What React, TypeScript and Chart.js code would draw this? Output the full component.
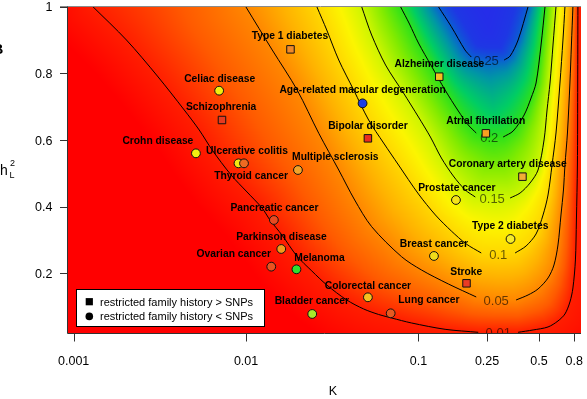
import { useEffect, useRef } from "react";
import { Chart, registerables } from "chart.js";

Chart.register(...registerables);

const FONT = '"Liberation Sans", Arial, Helvetica, sans-serif';

// ---------- axes ----------
const xTicks = [0.001, 0.01, 0.1, 0.25, 0.5, 0.8];
const xTickLabels = ["0.001", "0.01", "0.1", "0.25", "0.5", "0.8"];
const yTicks = [0.2, 0.4, 0.6, 0.8, 1];
const yTickLabels = ["0.2", "0.4", "0.6", "0.8", "1"];
const xTitle = "K";

// ---------- contour lines [K, h2] (left branch / right branch) ----------
const contourLevels = [0.01, 0.05, 0.1, 0.15, 0.2, 0.25];
const contourTexts = ["0.01", "0.05", "0.1", "0.15", "0.2", "0.25"];

const c001Left = [[0.001293,1.0],[0.002025,0.9],[0.003059,0.792],[0.004381,0.69],[0.00535,0.63],[0.006362,0.57],[0.00819,0.495],[0.01013,0.444],[0.01238,0.396],[0.01376,0.36],[0.01614,0.315],[0.01971,0.252],[0.02407,0.207],[0.02938,0.165],[0.03836,0.12],[0.04809,0.093],[0.05872,0.0765],[0.06982,0.066],[0.0911,0.051],[0.1427,0.032],[0.2222,0.023]];
const c001Right = [[0.3784,0.023],[0.4622,0.03],[0.5643,0.039],[0.6445,0.057],[0.7075,0.078],[0.756,0.114],[0.787,0.156],[0.8136,0.24],[0.8245,0.36],[0.8356,0.525],[0.8389,0.771],[0.8412,1.0]];
const c005Left = [[0.009961,1.0],[0.01419,0.87],[0.01979,0.75],[0.02642,0.62],[0.03448,0.51],[0.04266,0.42],[0.0535,0.34],[0.07973,0.25],[0.1041,0.21],[0.1491,0.168],[0.2163,0.129]];
const c005Right = [[0.3685,0.12],[0.4323,0.135],[0.4938,0.153],[0.5643,0.186],[0.611,0.225],[0.6445,0.285],[0.6708,0.375],[0.6934,0.45],[0.7075,0.525],[0.7314,0.621],[0.756,0.771],[0.7712,0.885],[0.787,1.0]];
const c010Left = [[0.02573,1.0],[0.02938,0.93],[0.03448,0.84],[0.0421,0.75],[0.0514,0.66],[0.06277,0.591],[0.07663,0.525],[0.1,0.438],[0.1254,0.375],[0.1551,0.327],[0.1894,0.288],[0.2313,0.261]];
const c010Right = [[0.3636,0.261],[0.421,0.282],[0.4809,0.318],[0.5279,0.375],[0.5643,0.435],[0.5953,0.525],[0.6277,0.621],[0.6619,0.771],[0.6889,0.9],[0.7075,1.0]];
const c015Left = [[0.04683,1.0],[0.0535,0.915],[0.06445,0.825],[0.0819,0.741],[0.1,0.669],[0.1173,0.609],[0.1358,0.546],[0.1593,0.492],[0.187,0.45],[0.2136,0.429]];
const c015Right = [[0.3402,0.426],[0.3887,0.441],[0.4439,0.471],[0.4938,0.51],[0.535,0.6],[0.5569,0.69],[0.5794,0.771],[0.603,0.885],[0.6277,1.0]];
const c020Left = [[0.0787,1.0],[0.08872,0.948],[0.1,0.891],[0.1189,0.822],[0.1427,0.75],[0.1703,0.687],[0.1945,0.645],[0.2163,0.621]];
const c020Right = [[0.3099,0.609],[0.3542,0.627],[0.41,0.675],[0.4499,0.726],[0.4809,0.771],[0.514,0.885],[0.5421,1.0]];
const c025Left = [[0.1305,1.0],[0.1551,0.94],[0.1862,0.87],[0.2025,0.849]];
const c025Right = [[0.3142,0.84],[0.3402,0.852],[0.3784,0.9],[0.4323,1.0]];

const contourLefts = [c001Left, c005Left, c010Left, c015Left, c020Left, c025Left];
const contourRights = [c001Right, c005Right, c010Right, c015Right, c020Right, c025Right];
// where each contour label sits (bottom of each contour) [K, h2]
const contourLabelAt = [[0.2901,0.024],[0.2824,0.12],[0.2901,0.258],[0.2677,0.426],[0.2573,0.609],[0.2471,0.84]];
// ridge of the surface (max along each row) [K, h2, value]
const ridge = [[0.29,0.02,0.0085],[0.2901,0.024,0.01],[0.2824,0.12,0.05],[0.2901,0.258,0.1],[0.2677,0.426,0.15],[0.2573,0.609,0.2],[0.2471,0.84,0.25],[0.25,1.0,0.29]];
const surfacePeak = 0.285;

// ---------- diseases ----------
const squareNames = ["Type 1 diabetes","Schizophrenia","Alzheimer disease","Bipolar disorder","Atrial fibrillation","Coronary artery disease","Stroke"];
const squareK = [0.0181,0.00725,0.132,0.0509,0.246,0.401,0.19];
const squareH2 = [0.872,0.66,0.79,0.605,0.62,0.49,0.17];

const circleNames = ["Celiac disease","Crohn disease","Ulcerative colitis","Thyroid cancer","Multiple sclerosis","Age-related macular degeneration","Prostate cancer","Type 2 diabetes","Breast cancer","Pancreatic cancer","Parkinson disease","Ovarian cancer","Melanoma","Colorectal cancer","Bladder cancer","Lung cancer"];
const circleK = [0.00698,0.00512,0.00904,0.00973,0.02,0.0474,0.165,0.342,0.123,0.0145,0.016,0.014,0.0196,0.0509,0.0242,0.069];
const circleH2 = [0.748,0.56,0.53,0.53,0.51,0.71,0.42,0.303,0.252,0.36,0.273,0.22,0.212,0.128,0.078,0.08];

const legendTexts = ["restricted family history > SNPs", "restricted family history < SNPs"];

// ---------- styles / annotation layout ----------
const squareFill = ["#f08a2a","#e63a20","#f6c020","#ec2c1e","#f8a020","#f3ad35","#ea3b24"];
const circleFill = ["#f2ee10","#f3ee10","#f4e612","#ee6a22","#f2a32a","#1b3ee8","#f4e41a","#f6ec2a","#f0dc1a","#e84a20","#f39a1c","#ea5220","#30e030","#f4c020","#a8e62a","#e55a22"];
const squareLabelAt = [[0.01796,0.915],[0.00717,0.702],[0.1323,0.83],[0.05091,0.645],[0.2455,0.66],[0.3292,0.531],[0.1894,0.207]];
const circleLabelAt = [[0.00703,0.786],[0.003079,0.6],[0.01013,0.568],[0.01069,0.493],[0.03292,0.552],[0.04745,0.753],[0.1669,0.457],[0.3402,0.343],[0.1229,0.291],[0.01462,0.397],[0.01604,0.312],[0.00849,0.26],[0.02667,0.247],[0.05091,0.164],[0.02407,0.118],[0.115,0.122]];

const colorStops = [
  [0, 255, 0, 0],
  [0.01, 255, 30, 0],
  [0.03, 255, 90, 0],
  [0.05, 255, 135, 0],
  [0.075, 255, 178, 0],
  [0.1, 255, 215, 0],
  [0.125, 252, 245, 0],
  [0.15, 205, 245, 0],
  [0.175, 130, 235, 0],
  [0.2, 45, 225, 25],
  [0.215, 0, 205, 100],
  [0.235, 0, 150, 165],
  [0.25, 10, 95, 210],
  [0.265, 30, 55, 228],
  [0.285, 40, 40, 235],
];

function colorAt(v: number): number[] {
  if (v <= colorStops[0][0]) return colorStops[0].slice(1);
  for (let i = 1; i < colorStops.length; i++) {
    if (v <= colorStops[i][0]) {
      const a = colorStops[i - 1], b = colorStops[i];
      const t = (v - a[0]) / (b[0] - a[0]);
      return [a[1] + (b[1] - a[1]) * t, a[2] + (b[2] - a[2]) * t, a[3] + (b[3] - a[3]) * t];
    }
  }
  return colorStops[colorStops.length - 1].slice(1);
}

function polyDist(px: number, py: number, pts: number[][]): number {
  let best = Infinity;
  for (let i = 0; i < pts.length - 1; i++) {
    const x1 = pts[i][0], y1 = pts[i][1], x2 = pts[i + 1][0], y2 = pts[i + 1][1];
    const dx = x2 - x1, dy = y2 - y1;
    const l2 = dx * dx + dy * dy;
    let t = l2 > 0 ? ((px - x1) * dx + (py - y1) * dy) / l2 : 0;
    t = t < 0 ? 0 : t > 1 ? 1 : t;
    const ex = x1 + t * dx - px, ey = y1 + t * dy - py;
    const d = ex * ex + ey * ey;
    if (d < best) best = d;
  }
  return Math.sqrt(best);
}

const surfacePlugin = {
  id: "surface",
  beforeDatasetsDraw(chart: any) {
    const { ctx, chartArea: a, scales } = chart;
    const xs = scales.x, ys = scales.y;
    const L = Math.round(a.left), T = Math.round(a.top), R = Math.round(a.right), B = Math.round(a.bottom);
    const W = R - L, H = B - T;
    const polys = contourLevels.map((lev, i) => ({
      level: lev,
      pts: [...contourLefts[i], contourLabelAt[i], ...contourRights[i]].map(([k, h]) => [xs.getPixelForValue(k), ys.getPixelForValue(h)]),
    }));
    const rp = ridge.map(([k, h, v]) => [xs.getPixelForValue(k), ys.getPixelForValue(h), v]);
    const n = contourLevels.length;
    const img = ctx.createImageData(W, H);
    for (let j = 0; j < H; j++) {
      const py = T + j + 0.5;
      const nodes: number[][] = [[a.left, 0], [a.right, 0]];
      for (const p of polys) {
        for (let i = 0; i < p.pts.length - 1; i++) {
          const [x1, y1] = p.pts[i], [x2, y2] = p.pts[i + 1];
          if ((y1 <= py && py < y2) || (y2 <= py && py < y1)) {
            nodes.push([x1 + ((py - y1) / (y2 - y1)) * (x2 - x1), p.level]);
          }
        }
      }
      for (let i = 0; i < rp.length - 1; i++) {
        const [x1, y1, v1] = rp[i], [x2, y2, v2] = rp[i + 1];
        if ((y1 <= py && py < y2) || (y2 <= py && py < y1)) {
          const t = (py - y1) / (y2 - y1);
          nodes.push([x1 + t * (x2 - x1), v1 + t * (v2 - v1)]);
        }
      }
      nodes.sort((p, q) => p[0] - q[0]);
      let s = 0;
      for (let i = 0; i < W; i++) {
        const px = L + i + 0.5;
        while (s < nodes.length - 2 && nodes[s + 1][0] <= px) s++;
        const [xa, va] = nodes[s], [xb, vb] = nodes[s + 1];
        const t = xb > xa ? Math.min(1, Math.max(0, (px - xa) / (xb - xa))) : 0;
        const vrow = va + (vb - va) * t;
        let lo = -1;
        for (let k = 0; k < n; k++) if (vrow >= contourLevels[k] - 1e-9) lo = k;
        let v: number;
        if (lo < 0) {
          const d = polyDist(px, py, polys[0].pts);
          v = contourLevels[0] * Math.max(0, 1 - d / 45);
        } else if (lo === n - 1) {
          const d = polyDist(px, py, polys[lo].pts);
          v = contourLevels[lo] + (surfacePeak - contourLevels[lo]) * (1 - Math.exp(-d / 22));
        } else {
          const dlo = polyDist(px, py, polys[lo].pts);
          const dhi = polyDist(px, py, polys[lo + 1].pts);
          v = contourLevels[lo] + (contourLevels[lo + 1] - contourLevels[lo]) * (dlo / (dlo + dhi + 1e-9));
        }
        const c = colorAt(v);
        const o = (j * W + i) * 4;
        img.data[o] = c[0]; img.data[o + 1] = c[1]; img.data[o + 2] = c[2]; img.data[o + 3] = 255;
      }
    }
    ctx.putImageData(img, L, T);

    ctx.save();
    ctx.beginPath();
    ctx.rect(a.left, a.top, a.right - a.left, a.bottom - a.top);
    ctx.clip();
    ctx.font = `13px ${FONT}`;
    ctx.fillStyle = "rgba(0,0,0,0.6)";
    ctx.textAlign = "center";
    ctx.textBaseline = "alphabetic";
    contourTexts.forEach((t, i) => {
      const [k, h] = contourLabelAt[i];
      ctx.fillText(t, xs.getPixelForValue(k), ys.getPixelForValue(h) + 4.6);
    });
    ctx.restore();
  },
};

const labelPlugin = {
  id: "diseaseLabels",
  afterDatasetsDraw(chart: any) {
    const { ctx, scales } = chart;
    const xs = scales.x, ys = scales.y;
    ctx.save();
    ctx.font = `bold 10.3px ${FONT}`;
    ctx.fillStyle = "#000";
    ctx.textAlign = "center";
    ctx.textBaseline = "alphabetic";
    squareNames.forEach((nm, i) => {
      const [k, h] = squareLabelAt[i];
      ctx.fillText(nm, xs.getPixelForValue(k), ys.getPixelForValue(h) + 3.7);
    });
    circleNames.forEach((nm, i) => {
      const [k, h] = circleLabelAt[i];
      ctx.fillText(nm, xs.getPixelForValue(k), ys.getPixelForValue(h) + 3.7);
    });
    ctx.restore();
  },
};

const axesPlugin = {
  id: "rAxes",
  afterDraw(chart: any) {
    const { ctx, chartArea: a, scales } = chart;
    const xs = scales.x, ys = scales.y;
    ctx.save();
    ctx.lineWidth = 1;
    ctx.strokeStyle = "#8a8a8a";
    ctx.beginPath();
    ctx.moveTo(60, 6.5);
    ctx.lineTo(Math.round(a.right), 6.5);
    ctx.stroke();
    ctx.strokeStyle = "#333";
    ctx.beginPath();
    ctx.moveTo(67.5, 6.5);
    ctx.lineTo(67.5, 333.5);
    ctx.lineTo(Math.round(a.right), 333.5);
    ctx.stroke();
    ctx.font = `12.5px ${FONT}`;
    ctx.fillStyle = "#000";
    ctx.textAlign = "center";
    ctx.textBaseline = "alphabetic";
    xTicks.forEach((t, i) => {
      const px = Math.round(xs.getPixelForValue(t)) + 0.5;
      ctx.beginPath();
      ctx.moveTo(px, 333.5);
      ctx.lineTo(px, 341.5);
      ctx.stroke();
      ctx.fillText(xTickLabels[i], xs.getPixelForValue(t), 365);
    });
    ctx.textAlign = "right";
    yTicks.forEach((t, i) => {
      const py = Math.round(ys.getPixelForValue(t)) + 0.5;
      ctx.beginPath();
      ctx.moveTo(60, py);
      ctx.lineTo(68, py);
      ctx.stroke();
      ctx.fillText(yTickLabels[i], 52.5, ys.getPixelForValue(t) + 4.5);
    });
    ctx.textAlign = "center";
    ctx.fillText(xTitle, 333, 394.5);
    ctx.textAlign = "left";
    ctx.font = `14px ${FONT}`;
    ctx.fillText("h", 0, 175);
    ctx.font = `9px ${FONT}`;
    ctx.fillText("2", 10, 165.5);
    ctx.fillText("L", 9.5, 178);
    ctx.font = `bold 15px ${FONT}`;
    ctx.fillText("B", -7.5, 53.5);
    ctx.fillStyle = "#fff";
    ctx.fillRect(76.5, 289.5, 188, 37);
    ctx.strokeStyle = "#000";
    ctx.strokeRect(76.5, 289.5, 188, 37);
    ctx.fillStyle = "#000";
    ctx.fillRect(89.3 - 3.6, 301.7 - 3.6, 7.2, 7.2);
    ctx.beginPath();
    ctx.arc(89.3, 316.4, 3.8, 0, Math.PI * 2);
    ctx.fill();
    ctx.font = `11px ${FONT}`;
    ctx.fillText(legendTexts[0], 100, 305.6);
    ctx.fillText(legendTexts[1], 100, 320.4);
    ctx.restore();
  },
};

export default function App() {
  const ref = useRef<HTMLCanvasElement>(null);
  useEffect(() => {
    const canvas = ref.current!;
    const lineSets: any[] = [];
    contourLevels.forEach((lev, i) => {
      [contourLefts[i], contourRights[i]].forEach((seg, j) => {
        lineSets.push({
          type: "line",
          label: `contour ${lev} ${j}`,
          data: seg.map(([k, h]) => ({ x: k, y: h })),
          borderColor: "#000",
          borderWidth: 1,
          pointRadius: 0,
          fill: false,
          tension: 0.3,
          order: 2,
        });
      });
    });
    const chart = new Chart(canvas, {
      type: "scatter",
      data: {
        datasets: [
          ...lineSets,
          {
            type: "scatter",
            label: legendTexts[0],
            data: squareK.map((k, i) => ({ x: k, y: squareH2[i] })),
            pointStyle: "rect",
            pointRadius: 5.3,
            backgroundColor: squareFill,
            borderColor: "#111",
            borderWidth: 1,
            order: 0,
          },
          {
            type: "scatter",
            label: legendTexts[1],
            data: circleK.map((k, i) => ({ x: k, y: circleH2[i] })),
            pointStyle: "circle",
            pointRadius: 4.4,
            backgroundColor: circleFill,
            borderColor: "#111",
            borderWidth: 1,
            order: 0,
          },
        ] as any,
      },
      options: {
        animation: false,
        responsive: false,
        devicePixelRatio: 1,
        events: [],
        layout: { padding: { left: 68.3, right: 4.5, top: 6.7, bottom: 65.7 } },
        scales: {
          x: { type: "logarithmic", min: 0.000931, max: 0.873, display: false },
          y: { type: "linear", min: 0.02, max: 1, display: false },
        },
        plugins: { legend: { display: false }, tooltip: { enabled: false } },
      } as any,
      plugins: [surfacePlugin, labelPlugin, axesPlugin],
    });
    return () => chart.destroy();
  }, []);
  return (
    <div style={{ position: "fixed", left: 0, top: 0, width: 587, height: 399, background: "#fff" }}>
      <canvas ref={ref} width={587} height={399} style={{ width: 587, height: 399, display: "block" }} />
    </div>
  );
}
